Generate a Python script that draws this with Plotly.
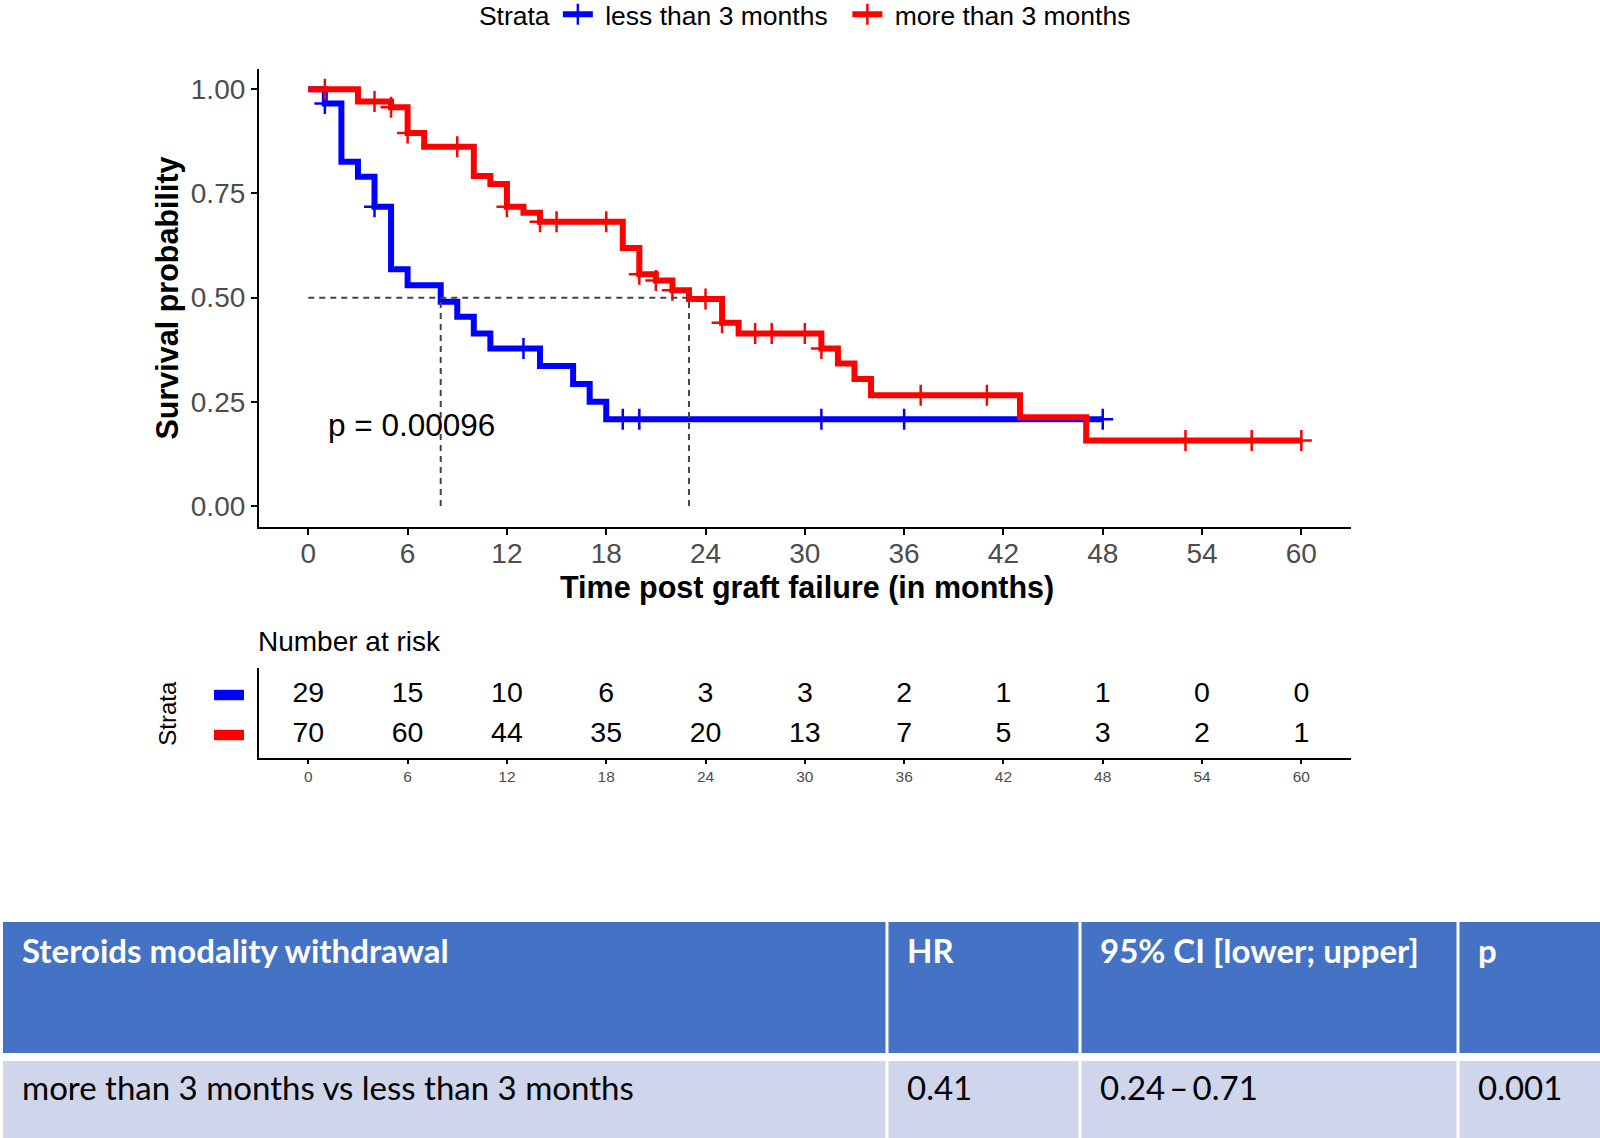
import bisect
import plotly.graph_objects as go

# ---------------- data ----------------
strata_names = ["less than 3 months", "more than 3 months"]
strata_colors = ["#0000FF", "#FF0000"]

blue_times = [0, 1, 2, 3, 4, 5, 6, 8, 9, 10, 11, 14, 16, 17, 18, 48]
blue_surv = [1.0, 0.966, 0.826, 0.790, 0.718, 0.568, 0.530, 0.490, 0.454, 0.414,
             0.378, 0.336, 0.293, 0.250, 0.208, 0.208]
blue_censor = [1, 4, 13, 19, 20, 31, 36, 48]

red_times = [0, 3, 5, 6, 7, 10, 11, 12, 13, 14, 19, 20, 21, 22, 23, 25, 26, 31,
             32, 33, 34, 43, 47, 60]
red_surv = [1.0, 0.971, 0.957, 0.895, 0.862, 0.792, 0.773, 0.718, 0.704, 0.682,
            0.619, 0.556, 0.541, 0.518, 0.497, 0.440, 0.414, 0.378, 0.342, 0.305,
            0.266, 0.213, 0.157, 0.157]
red_censor = [1, 4, 5, 6, 9, 12, 14, 15, 18, 20, 21, 22, 24, 25, 27, 28, 30, 31,
              37, 41, 53, 57, 60]

median_times = [8, 23]
median_level = 0.5
p_text = "p = 0.00096"
p_pos = [6.25, 0.194]

risk_times = [0, 6, 12, 18, 24, 30, 36, 42, 48, 54, 60]
blue_risk = [29, 15, 10, 6, 3, 3, 2, 1, 1, 0, 0]
red_risk = [70, 60, 44, 35, 20, 13, 7, 5, 3, 2, 1]

x_ticks = list(range(0, 61, 6))
y_ticks = [0, 0.25, 0.5, 0.75, 1.0]

table_header = ["Steroids modality withdrawal", "HR", "95% CI [lower; upper]", "p"]
table_row = ["more than 3 months vs less than 3 months", "0.41", "0.24\u2009\u2013\u20090.71", "0.001"]

# ---------------- helpers ----------------
W, H = 1600, 1138
def px_x(p):
    return p / W
def px_y(p):
    return 1 - p / H

def step_value(times, surv, t):
    i = bisect.bisect_right(times, t) - 1
    return surv[max(i, 0)]

FONT = "Liberation Sans, Arial, sans-serif"
TFONT = "Lato, sans-serif"
NB = "\u00a0"

fig = go.Figure()

curves = [
    (blue_times, blue_surv, blue_censor, strata_colors[0], strata_names[0]),
    (red_times, red_surv, red_censor, strata_colors[1], strata_names[1]),
]
for times, surv, cens, col, name in curves:
    fig.add_trace(go.Scatter(x=times, y=surv, mode="lines", line=dict(color=col, width=6, shape="hv"),
                             showlegend=False, hoverinfo="skip", xaxis="x", yaxis="y"))
    fig.add_trace(go.Scatter(x=cens, y=[step_value(times, surv, t) for t in cens], mode="markers",
                             marker=dict(symbol="cross-thin", size=15, color=col,
                                         line=dict(color=col, width=2.5)),
                             showlegend=False, hoverinfo="skip", xaxis="x", yaxis="y"))

# median lines
mx = [0, median_times[-1], None]
my = [median_level, median_level, None]
for t in median_times:
    mx += [t, t, None]
    my += [0, median_level, None]
fig.add_trace(go.Scatter(x=mx, y=my, mode="lines", line=dict(color="#444444", width=2, dash="6px,5px"),
                         showlegend=False, hoverinfo="skip", xaxis="x", yaxis="y"))

# legend entries
legend_labels = [NB + strata_names[0] + NB * 2, NB + strata_names[1]]
for name, col in zip(legend_labels, strata_colors):
    fig.add_trace(go.Scatter(x=[None], y=[None], mode="lines+markers", name=name,
                             line=dict(color=col, width=6),
                             marker=dict(symbol="cross-thin", size=15, color=col,
                                         line=dict(color=col, width=2.5)),
                             xaxis="x", yaxis="y"))

# risk table numbers
for vals, yv in [(blue_risk, 2), (red_risk, 1)]:
    fig.add_trace(go.Scatter(x=risk_times, y=[yv] * len(risk_times), mode="text",
                             text=[str(v) for v in vals],
                             textfont=dict(size=28.5, color="black", family=FONT),
                             showlegend=False, hoverinfo="skip", xaxis="x2", yaxis="y2"))

xdom = [px_x(258.65), px_x(1351)]
axis_common = dict(showgrid=False, zeroline=False, showline=True, linecolor="black", linewidth=1.5,
                   ticks="outside", tickcolor="black", tickwidth=1.5)

fig.update_layout(
    width=W, height=H,
    margin=dict(l=0, r=0, t=0, b=0, autoexpand=False),
    paper_bgcolor="white", plot_bgcolor="white",
    font=dict(family=FONT, color="black"),
    xaxis=dict(domain=xdom, range=[-3, 63], tickvals=x_ticks, ticklen=6, ticklabelstandoff=-5,
               tickfont=dict(size=28, color="#4D4D4D"), anchor="y", **axis_common),
    yaxis=dict(domain=[px_y(526.8), px_y(68.5)], range=[-0.05, 1.05], tickvals=y_ticks,
               ticktext=["%.2f" % v for v in y_ticks], ticklen=6,
               tickfont=dict(size=28, color="#4D4D4D"), anchor="x", **axis_common),
    xaxis2=dict(domain=xdom, range=[-3, 63], tickvals=x_ticks, ticklen=4,
                tickfont=dict(size=15.5, color="#4D4D4D"), anchor="y2", **axis_common),
    yaxis2=dict(domain=[px_y(758), px_y(668)], range=[0.425, 2.675], showticklabels=False,
                anchor="x2", showgrid=False, zeroline=False, showline=True,
                linecolor="black", linewidth=1.5, ticks=""),
    legend=dict(orientation="h", x=0.504, xanchor="center", y=1.0083, yanchor="top",
                title=dict(text="Strata", side="left", font=dict(size=26.5)),
                font=dict(size=26.5, color="black"), itemwidth=30, bgcolor="rgba(0,0,0,0)"),
    showlegend=True,
)

annotations = [
    dict(text="<b>Time post graft failure (in months)</b>", x=px_x(807), y=px_y(587.5),
         xref="paper", yref="paper", xanchor="center", yanchor="middle", showarrow=False,
         font=dict(size=30.5, color="black")),
    dict(text="<b>Survival probability</b>", x=px_x(166.5), y=px_y(298), textangle=-90,
         xref="paper", yref="paper", xanchor="center", yanchor="middle", showarrow=False,
         font=dict(size=30.5, color="black")),
    dict(text=p_text, x=p_pos[0], y=p_pos[1], xref="x", yref="y", xanchor="center",
         yanchor="middle", showarrow=False, font=dict(size=31.5, color="black")),
    dict(text="Number at risk", x=px_x(256), y=px_y(641), xref="paper", yref="paper",
         xanchor="left", yanchor="middle", showarrow=False, font=dict(size=28, color="black")),
    dict(text="Strata", x=px_x(166.7), y=px_y(713), textangle=-90, xref="paper", yref="paper",
         xanchor="center", yanchor="middle", showarrow=False, font=dict(size=24, color="black")),
]

shapes = []
for col, yv in zip(strata_colors, [2, 1]):
    shapes.append(dict(type="rect", xref="paper", yref="y2", x0=px_x(214), x1=px_x(244),
                       y0=yv - 0.13, y1=yv + 0.13, fillcolor=col, line=dict(width=0)))

# ---------------- HR table (cells as shapes, text as annotations) ----------------
col_edges = [3, 887, 1080, 1458, 1600]
text_left = [20, 904.5, 1097.5, 1475.5]
header_box = (922, 1053)
body_box = (1061, 1138)
header_text_y = 950
body_text_y = 1087

for i in range(len(table_header)):
    x0 = col_edges[i] + (0 if i == 0 else 1.5)
    x1 = col_edges[i + 1] - (0 if i == len(table_header) - 1 else 1.5)
    shapes.append(dict(type="rect", xref="paper", yref="paper", x0=px_x(x0), x1=px_x(x1),
                       y0=px_y(header_box[1]), y1=px_y(header_box[0]),
                       fillcolor="#4472C4", line=dict(width=0), layer="below"))
    shapes.append(dict(type="rect", xref="paper", yref="paper", x0=px_x(x0), x1=px_x(x1),
                       y0=px_y(body_box[1]), y1=px_y(body_box[0]),
                       fillcolor="#CFD5EA", line=dict(width=0), layer="below"))
    annotations.append(dict(text="<b>%s</b>" % table_header[i], x=px_x(text_left[i]),
                            y=px_y(header_text_y), xref="paper", yref="paper",
                            xanchor="left", yanchor="middle", showarrow=False,
                            font=dict(family=TFONT, size=33, color="white")))
    annotations.append(dict(text=table_row[i], x=px_x(text_left[i]),
                            y=px_y(body_text_y), xref="paper", yref="paper",
                            xanchor="left", yanchor="middle", showarrow=False,
                            font=dict(family=TFONT, size=33, color="black")))

fig.update_layout(annotations=annotations, shapes=shapes)

fig.write_html("out.html", config={"displayModeBar": False},
               post_script="document.body.style.margin='0px';")
